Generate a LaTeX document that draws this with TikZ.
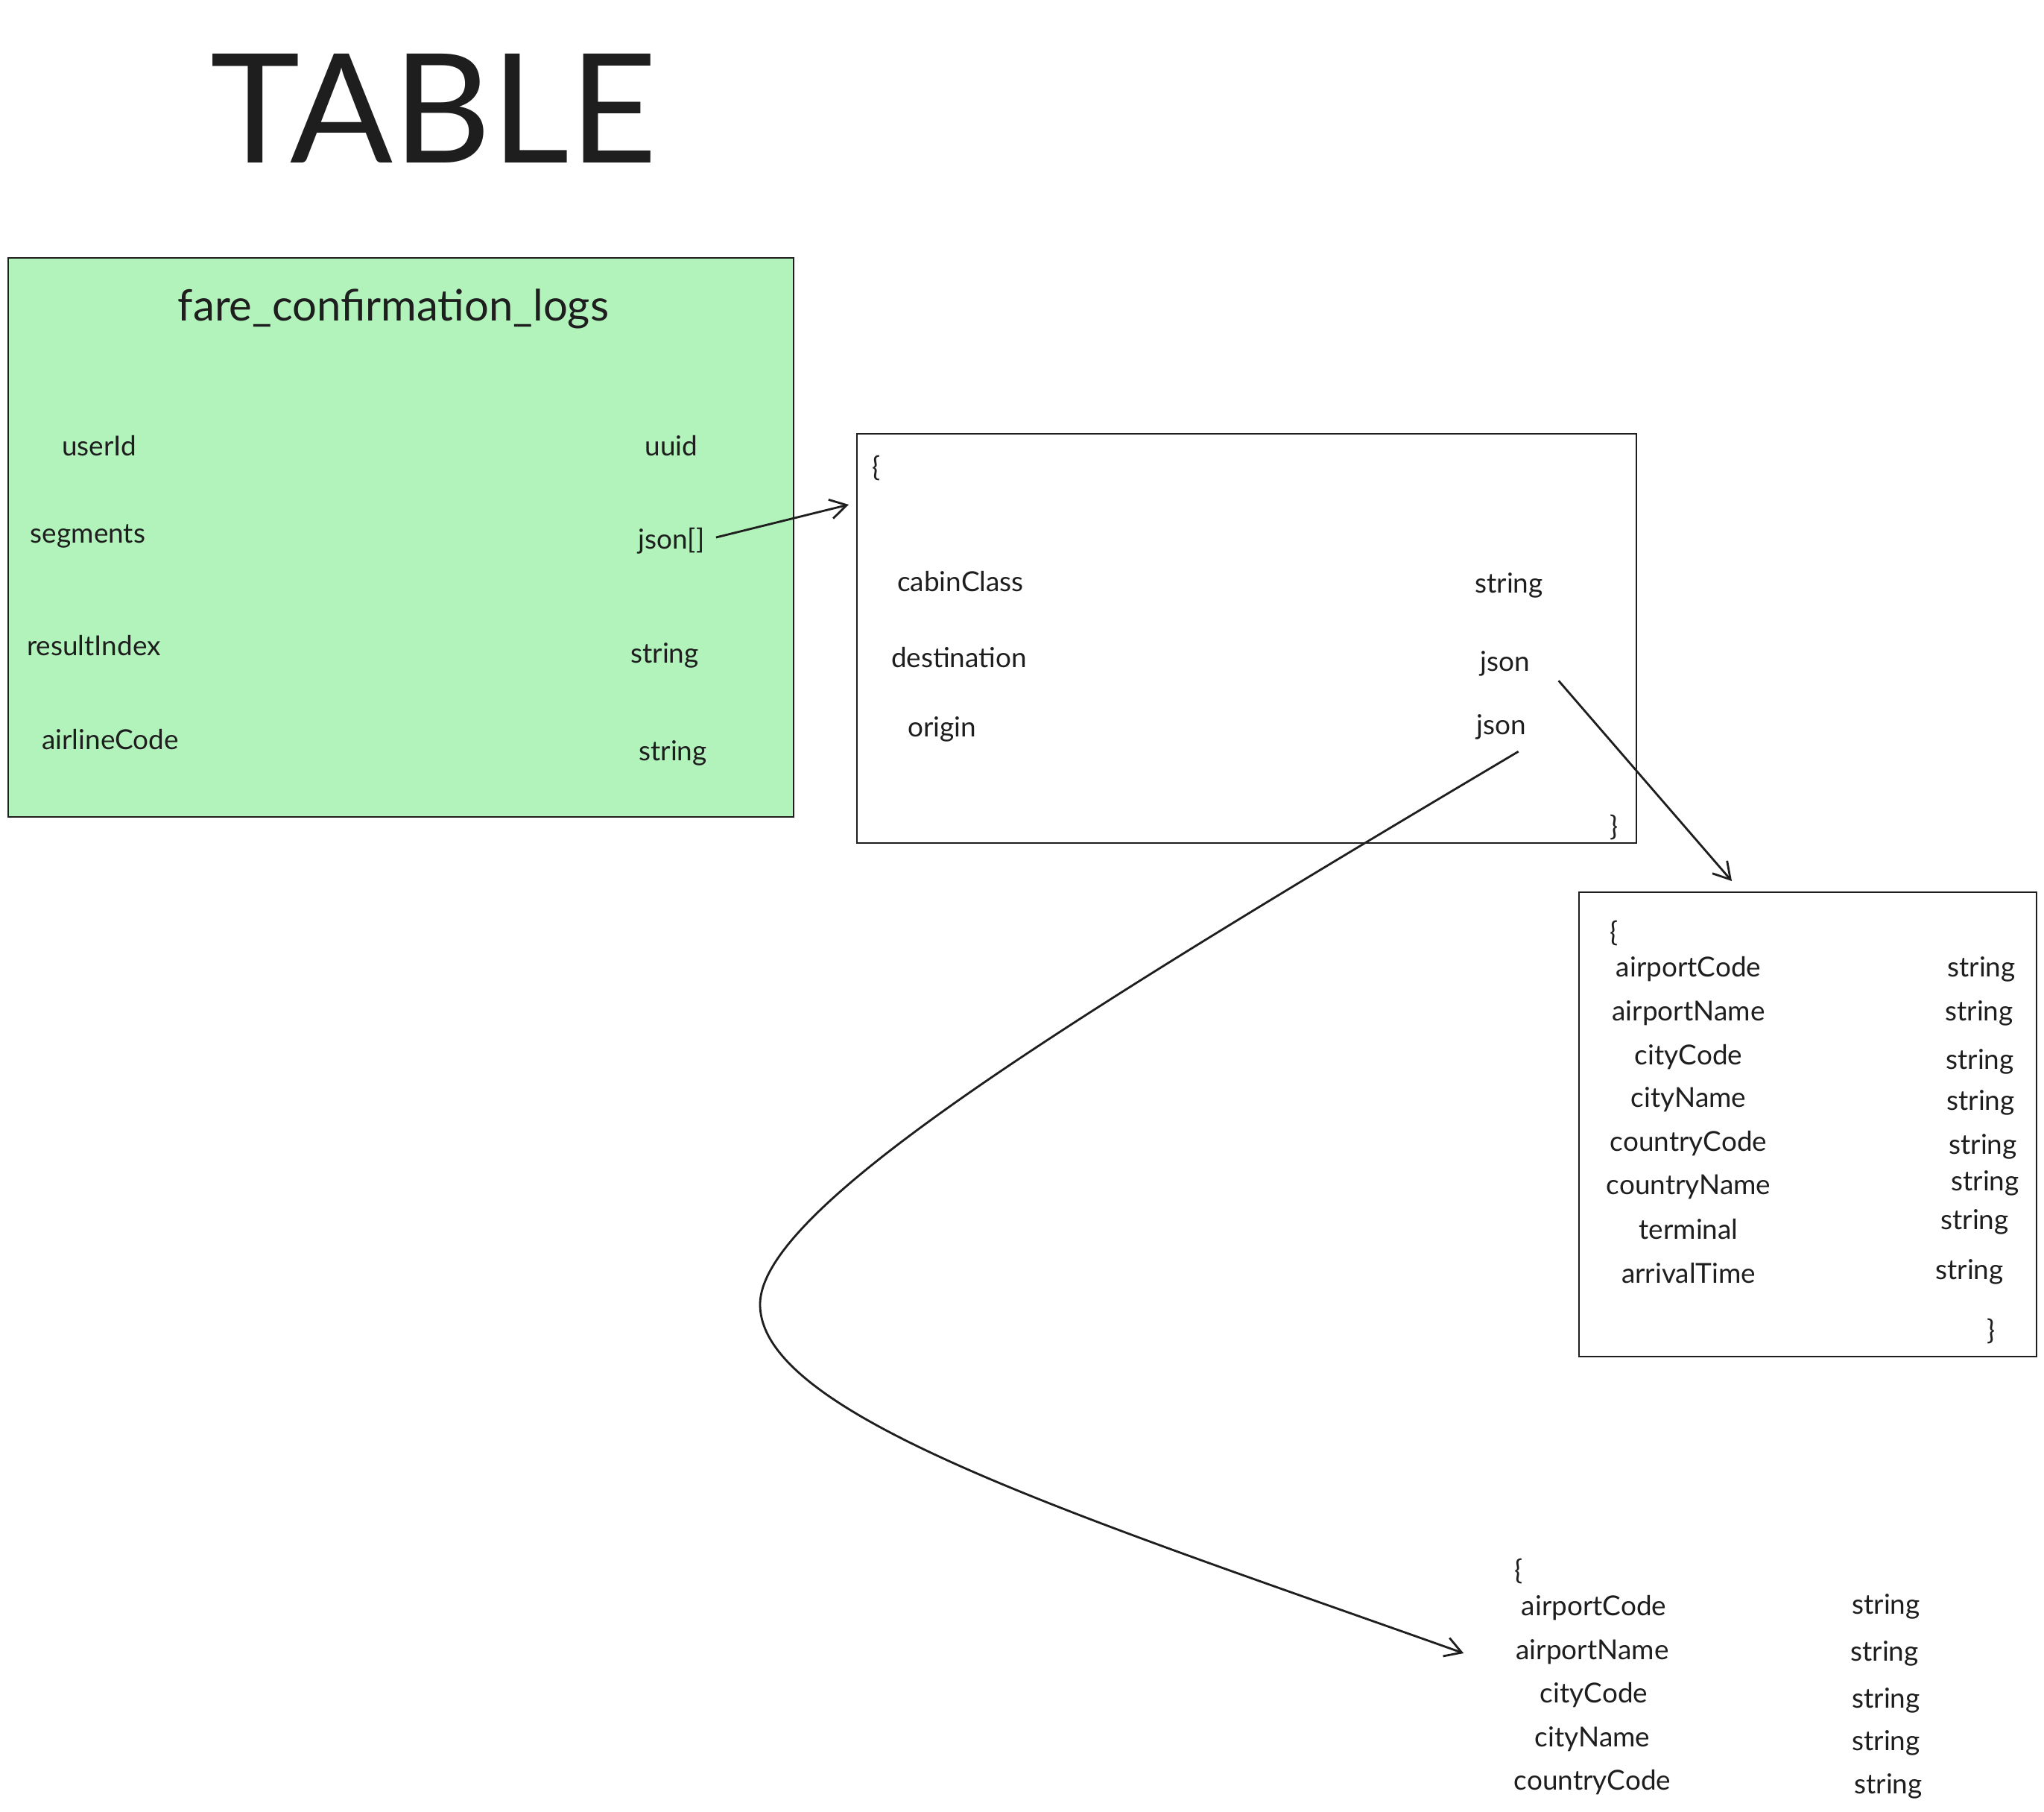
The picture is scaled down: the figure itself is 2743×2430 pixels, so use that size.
\documentclass[tikz,border=0pt]{standalone}
\usepackage{fontspec}
\setmainfont{Lato}
\usepackage{xcolor}
\usetikzlibrary{arrows.meta,positioning}
\definecolor{ink}{HTML}{1E1E1E}
\definecolor{mint}{HTML}{B2F2BB}

\begin{document}
\begin{tikzpicture}[x=0.01cm,y=-0.01cm,>={Straight Barb[length=2.2mm,width=2.6mm]},
  line width=0.8pt,draw=ink]
  \tikzstyle{field}=[inner sep=0pt, text=ink, font=\fontsize{10.5}{12}\selectfont]
  \tikzstyle{heading}=[inner sep=0pt, text=ink, font=\fontsize{16.5}{20}\selectfont]
  \tikzstyle{box}=[draw=ink, line width=0.55pt, anchor=north west, inner sep=0pt]

  \useasboundingbox (0,0) rectangle (2743,2430);

  \node[inner sep=0pt, text=ink, font=\fontsize{58}{60}\selectfont] (title) at (582,145) {TABLE};

  % table box
  \node[box, fill=mint, minimum width=10.53cm, minimum height=7.50cm] (logs) at (10,345) {};
  \node[heading]            (logsName)    at (528,414)  {fare\_confirmation\_logs};
  \node[field]              (userIdKey)   at (133,598)  {userId};
  \node[field]              (userIdType)  at (901,598)  {uuid};
  \node[field]              (segKey)      at (118,719)  {segments};
  \node[field]              (segType)     at (901,726)  {json[]};
  \node[field]              (resultKey)   at (126,866)  {resultIndex};
  \node[field]              (resultType)  at (892,879)  {string};
  \node[field]              (airlineKey)  at (148,992)  {airlineCode};
  \node[field]              (airlineType) at (903,1010) {string};

  % segment object
  \node[box, minimum width=10.45cm, minimum height=5.49cm] (segment) at (1149,581) {};
  \node[field]              (segOpen)     at (1176,628)  {\{};
  \node[field]              (cabinKey)    at (1289,780)  {cabinClass};
  \node[field]              (cabinType)   at (2025,785)  {string};
  \node[field]              (destKey)     at (1287,882)  {destination};
  \node[field]              (destType)    at (2020,890)  {json};
  \node[field]              (originKey)   at (1264,978)  {origin};
  \node[field]              (originType)  at (2015,975)  {json};
  \node[field]              (segClose)    at (2166,1110) {\}};

  % destination object
  \node[box, minimum width=6.14cm, minimum height=6.23cm] (dest) at (2118,1196) {};
  \node[field] (dOpen)          at (2166,1252) {\{};
  \node[field] (dAirportCode)   at (2266,1300) {airportCode};
  \node[field] (dAirportCodeT)  at (2659,1300) {string};
  \node[field] (dAirportName)   at (2266,1359) {airportName};
  \node[field] (dAirportNameT)  at (2656,1359) {string};
  \node[field] (dCityCode)      at (2266,1418) {cityCode};
  \node[field] (dCityCodeT)     at (2657,1424) {string};
  \node[field] (dCityName)      at (2266,1475) {cityName};
  \node[field] (dCityNameT)     at (2658,1479) {string};
  \node[field] (dCountryCode)   at (2266,1534) {countryCode};
  \node[field] (dCountryCodeT)  at (2661,1538) {string};
  \node[field] (dCountryName)   at (2266,1592) {countryName};
  \node[field] (dCountryNameT)  at (2664,1587) {string};
  \node[field] (dTerminal)      at (2266,1649) {terminal};
  \node[field] (dTerminalT)     at (2650,1639) {string};
  \node[field] (dArrival)       at (2266,1708) {arrivalTime};
  \node[field] (dArrivalT)      at (2643,1706) {string};
  \node[field] (dClose)         at (2672,1786) {\}};

  % origin object
  \node[field] (oOpen)          at (2038,2108) {\{};
  \node[field] (oAirportCode)   at (2139,2157) {airportCode};
  \node[field] (oAirportCodeT)  at (2531,2155) {string};
  \node[field] (oAirportName)   at (2137,2216) {airportName};
  \node[field] (oAirportNameT)  at (2529,2218) {string};
  \node[field] (oCityCode)      at (2139,2274) {cityCode};
  \node[field] (oCityCodeT)     at (2531,2281) {string};
  \node[field] (oCityName)      at (2137,2333) {cityName};
  \node[field] (oCityNameT)     at (2531,2338) {string};
  \node[field] (oCountryCode)   at (2137,2391) {countryCode};
  \node[field] (oCountryCodeT)  at (2534,2396) {string};

  \coordinate (segOut)     at ([shift={(14,-5)}]segType.east);
  \coordinate (segIn)      at ([shift={(-10,96)}]segment.north west);
  \coordinate (destOut)    at ([shift={(37,5)}]destType.south east);
  \coordinate (destIn)     at ([shift={(206,-14)}]dest.north west);
  \coordinate (originOut)  at ([shift={(-12,15)}]originType.south east);
  \coordinate (originTurn) at (1020,1750);
  \coordinate (originIn)   at ([shift={(-69,2)}]oAirportName.west);

  \path[->]
  (segOut)  edge (segIn)
  (destOut) edge (destIn)
  ;
  \draw[->] (originOut) .. controls (1435,1366) and (1020,1620) .. (originTurn)
            .. controls (1020,1900) and (1450,2035) .. (originIn);
\end{tikzpicture}
\end{document}
